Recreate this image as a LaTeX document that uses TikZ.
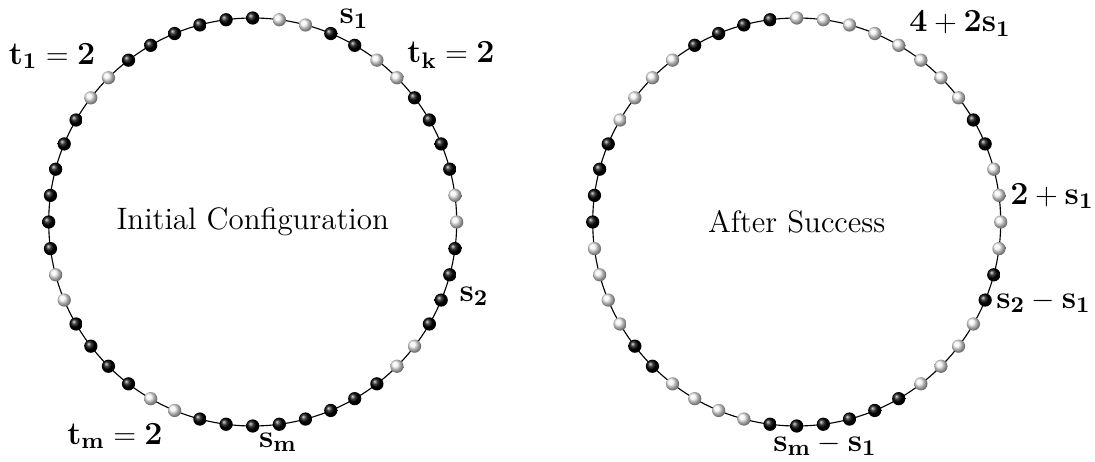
\documentclass[tikz,border=0pt]{standalone}
\usepackage{fontspec}
\setmainfont{Latin Modern Roman}
\begin{document}
\begin{tikzpicture}[
  ring/.style={draw=black, line width=0.45pt},
  ballB/.style={circle, inner sep=0pt, minimum size=5.3pt, shading=ball, ball color=black},
  ballW/.style={circle, inner sep=0pt, minimum size=5.3pt, shading=ball, ball color=gray!10},
  lbl/.style={inner sep=0pt, font=\fontsize{12.9}{15}\selectfont},
  title/.style={inner sep=0pt, font=\fontsize{12.4}{14}\selectfont}
]
\useasboundingbox (0,0) rectangle (438pt,184.4pt);
\coordinate (cL) at (101.08pt,95.6pt);
\coordinate (cR) at (318.68pt,95.6pt);
\draw[ring] (cL) circle[radius=81.6pt];
\draw[ring] (cR) circle[radius=81.6pt];
\foreach \c [count=\i from 0] in {B,W,W,B,B,W,W,B,B,B,B,W,W,B,B,B,B,W,W,B,B,B,B,B,B,B,B,W,W,B,B,B,B,W,W,B,B,B,B,B,B,W,W,B,B,B,B,B}
  \node[ball\c] (L\i) at ([shift={(90-7.5*\i:81.6pt)}]cL) {};
\foreach \c [count=\i from 0] in {W,W,W,W,W,W,W,W,B,B,W,W,W,W,B,B,W,W,W,W,B,B,B,B,B,B,W,W,W,W,B,B,W,W,W,W,B,B,B,B,W,W,W,W,B,B,B,B}
  \node[ball\c] (R\i) at ([shift={(90-7.5*\i:81.6pt)}]cR) {};
\node[title] (tL) at (cL) {Initial Configuration};
\node[title] (tR) at (cR) {After Success};
\node[lbl] (t1) at (20.8pt,162pt) {$\mathbf{t_1=2}$};
\node[lbl] (tk) at (180.4pt,162.4pt) {$\mathbf{t_k=2}$};
\node[lbl] (s1) at (141.6pt,177pt) {$\mathbf{s_1}$};
\node[lbl] (s2) at (189.6pt,66pt) {$\mathbf{s_2}$};
\node[lbl] (sm) at (111.2pt,7.6pt) {$\mathbf{s_m}$};
\node[lbl] (tm) at (46pt,10pt) {$\mathbf{t_m=2}$};
\node[lbl] (a1) at (384pt,175pt) {$\mathbf{4+2s_1}$};
\node[lbl] (a2) at (420.8pt,106pt) {$\mathbf{2+s_1}$};
\node[lbl] (a3) at (417.4pt,63.6pt) {$\mathbf{s_2-s_1}$};
\node[lbl] (a4) at (330pt,6.4pt) {$\mathbf{s_m-s_1}$};
\end{tikzpicture}
\end{document}
